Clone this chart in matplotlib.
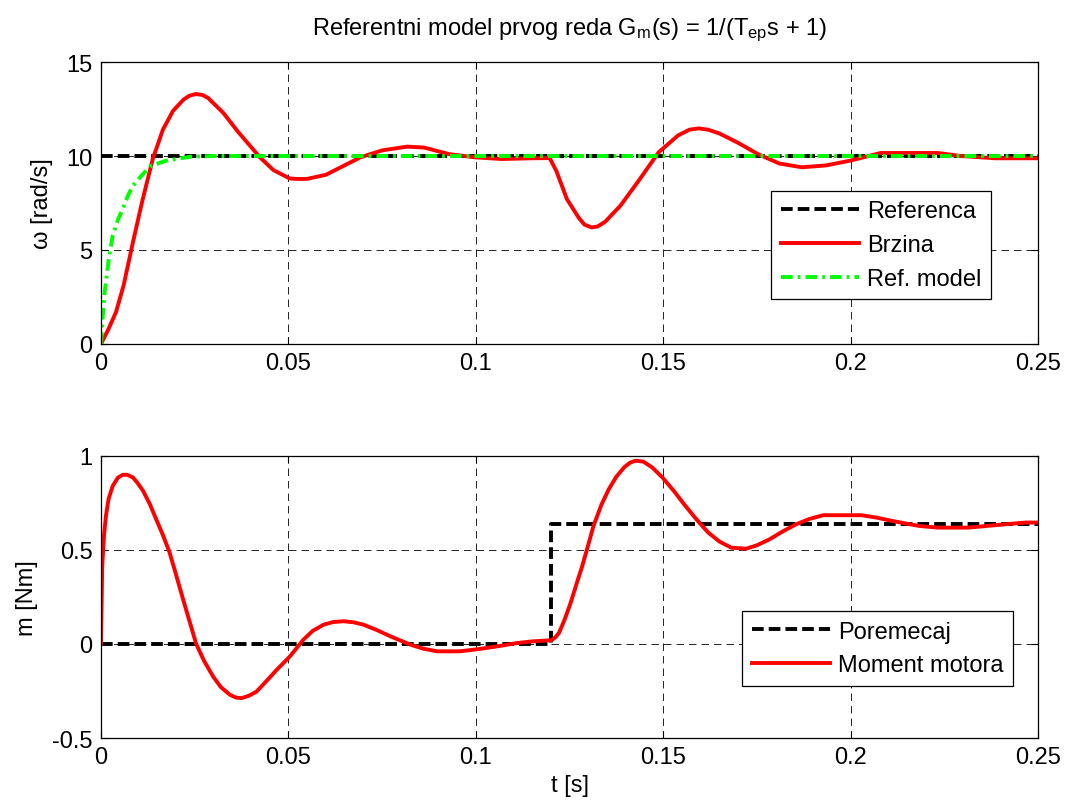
import numpy as np
import matplotlib
matplotlib.use("Agg")
import matplotlib.pyplot as plt
from matplotlib.ticker import FormatStrFormatter

plt.rcParams['font.family'] = ['Liberation Sans', 'DejaVu Sans']
plt.rcParams['mathtext.default'] = 'regular'
plt.rcParams['axes.unicode_minus'] = False

# speed reference (step to 10 rad/s)
t_ref = [0, 0.25]
w_ref = [10, 10]

# measured speed (Brzina)
t_speed = [0, 0.002, 0.004, 0.006, 0.0085, 0.011, 0.0138, 0.0165, 0.0192, 0.022,
           0.0235, 0.0253, 0.027, 0.0285, 0.0326, 0.0365, 0.0424, 0.046, 0.0504, 0.0525,
           0.0549, 0.06, 0.0692, 0.075, 0.0817, 0.0862, 0.0929, 0.0998, 0.1069, 0.115,
           0.1197, 0.1215, 0.1243, 0.1275, 0.129, 0.1309, 0.1325, 0.1345, 0.1386, 0.1435,
           0.1488, 0.154, 0.157, 0.1595, 0.162, 0.165, 0.17, 0.1753, 0.181, 0.187,
           0.1935, 0.1998, 0.208, 0.2233, 0.2294, 0.2386, 0.25]
w_speed = [0, 0.8, 1.7, 3.1, 5.4, 7.6, 9.84, 11.4, 12.4, 13.0,
           13.2, 13.3, 13.25, 13.1, 12.3, 11.3, 9.93, 9.25, 8.8, 8.78,
           8.78, 9.0, 9.93, 10.3, 10.5, 10.45, 10.1, 9.93, 9.84, 9.88,
           9.89, 9.2, 7.71, 6.7, 6.35, 6.2, 6.25, 6.5, 7.36, 8.7,
           10.2, 11.1, 11.4, 11.47, 11.4, 11.2, 10.7, 10.1, 9.6, 9.4,
           9.5, 9.75, 10.16, 10.16, 10.0, 9.88, 9.88]

# first order reference model output
t_model = [0, 0.0005, 0.001, 0.002, 0.0031, 0.0045, 0.0058, 0.0072, 0.0085, 0.011,
           0.0134, 0.0174, 0.0237, 0.03, 0.25]
w_model = [0, 1.6, 2.8, 4.4, 5.76, 6.6, 7.18, 7.9, 8.42, 9.0,
           9.49, 9.75, 9.96, 10.0, 10.0]

# load disturbance (Poremecaj)
t_dist = [0, 0.12, 0.12, 0.25]
m_dist = [0, 0, 0.637, 0.637]

# motor torque (Moment motora)
t_torque = [0, 0.0003, 0.0008, 0.0013, 0.002, 0.0031, 0.0045, 0.0058, 0.007, 0.0085,
            0.0098, 0.0112, 0.013, 0.0147, 0.0165, 0.0183, 0.02, 0.0219, 0.0237, 0.0254,
            0.0275, 0.0299, 0.032, 0.0344, 0.036, 0.0375, 0.0395, 0.0415, 0.044, 0.0469,
            0.0504, 0.054, 0.0565, 0.0594, 0.062, 0.0647, 0.0675, 0.07, 0.0735, 0.0772,
            0.0826, 0.086, 0.0897, 0.0957, 0.1008, 0.1059, 0.111, 0.1151, 0.1202, 0.1212,
            0.1222, 0.1237, 0.1253, 0.1268, 0.1284, 0.1299, 0.1314, 0.1335, 0.1355, 0.1375,
            0.1396, 0.1412, 0.1427, 0.1447, 0.147, 0.1498, 0.153, 0.1559, 0.159, 0.162,
            0.165, 0.1682, 0.1722, 0.175, 0.1784, 0.182, 0.1855, 0.189, 0.1927, 0.2029,
            0.207, 0.211, 0.2182, 0.2233, 0.2314, 0.2386, 0.2467, 0.25]
m_torque = [0, 0.41, 0.58, 0.68, 0.77, 0.84, 0.885, 0.9, 0.9, 0.886,
            0.855, 0.815, 0.745, 0.664, 0.58, 0.486, 0.37, 0.237, 0.115, 0,
            -0.09, -0.173, -0.23, -0.27, -0.285, -0.288, -0.275, -0.253, -0.2, -0.137,
            -0.066, 0.023, 0.07, 0.103, 0.117, 0.121, 0.115, 0.103, 0.075, 0.041,
            -0.004, -0.025, -0.039, -0.039, -0.027, -0.012, 0.005, 0.014, 0.02, 0.035,
            0.059, 0.13, 0.219, 0.315, 0.415, 0.52, 0.628, 0.74, 0.824, 0.89,
            0.94, 0.965, 0.975, 0.97, 0.94, 0.886, 0.81, 0.735, 0.66, 0.593,
            0.545, 0.512, 0.507, 0.525, 0.557, 0.6, 0.637, 0.665, 0.685, 0.685,
            0.672, 0.655, 0.628, 0.619, 0.619, 0.632, 0.646, 0.646]

x_ticks = [0, 0.05, 0.1, 0.15, 0.2, 0.25]

fig = plt.figure(figsize=(10.67, 8.03), dpi=100)
ax1 = fig.add_axes([0.0947, 0.5704, 0.8781, 0.3511])
ax2 = fig.add_axes([0.0947, 0.0797, 0.8781, 0.3512])

fs = 17
dash = (0, (3, 1.3))
dashdot = (0, (3, 1.3, 0.7, 1.3))
leg_kw = dict(fontsize=fs, fancybox=False, edgecolor='black', framealpha=1,
              handlelength=3.3, handletextpad=0.35, labelspacing=0.5,
              borderaxespad=0)

# top: speed
ax1.plot(t_ref, w_ref, color='black', lw=2.8, linestyle=dash, label='Referenca')
ax1.plot(t_speed, w_speed, color='red', lw=2.8, label='Brzina')
ax1.plot(t_model, w_model, color='#00ff00', lw=2.8, linestyle=dashdot, label='Ref. model')
ax1.set_xlim(0, 0.25)
ax1.set_ylim(0, 15)
ax1.set_yticks([0, 5, 10, 15])
ax1.set_ylabel('ω [rad/s]', fontsize=fs, labelpad=10)
ax1.set_title('Referentni model prvog reda G$_{m}$(s) = 1/(T$_{ep}$s + 1)',
              fontsize=fs, pad=20)
ax1.legend(loc='upper right', bbox_to_anchor=(0.9498, 0.5426), **leg_kw)

# bottom: torque
ax2.plot(t_dist, m_dist, color='black', lw=2.8, linestyle=dash, label='Poremecaj')
ax2.plot(t_torque, m_torque, color='red', lw=2.8, label='Moment motora')
ax2.set_xlim(0, 0.25)
ax2.set_ylim(-0.5, 1)
ax2.set_yticks([-0.5, 0, 0.5, 1])
ax2.set_ylabel('m [Nm]', fontsize=fs, labelpad=10)
ax2.set_xlabel('t [s]', fontsize=fs)
ax2.legend(loc='upper right', bbox_to_anchor=(0.9733, 0.45), **leg_kw)

for ax in (ax1, ax2):
    ax.set_xticks(x_ticks)
    ax.xaxis.set_major_formatter(FormatStrFormatter('%g'))
    ax.yaxis.set_major_formatter(FormatStrFormatter('%g'))
    ax.grid(True, color='black', lw=0.6, linestyle=(0, (9, 6)))
    ax.tick_params(direction='in', top=True, right=True, length=5, width=0.8,
                   labelsize=fs, pad=6)
    for s in ax.spines.values():
        s.set_linewidth(0.9)
    ax.get_legend().get_frame().set_linewidth(0.9)

fig.savefig('out.png', dpi=100)
